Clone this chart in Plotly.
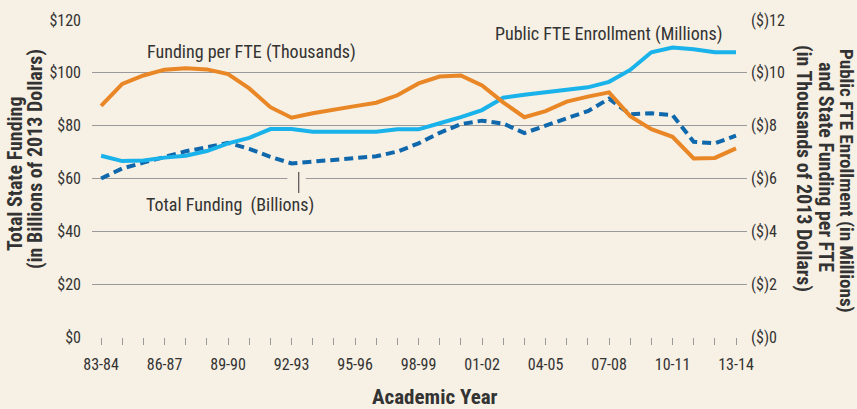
import plotly.graph_objects as go

years = ["83-84","84-85","85-86","86-87","87-88","88-89","89-90","90-91","91-92","92-93",
         "93-94","94-95","95-96","96-97","97-98","98-99","99-00","00-01","01-02","02-03",
         "03-04","04-05","05-06","06-07","07-08","08-09","09-10","10-11","11-12","12-13","13-14"]

# Total state funding, billions of 2013 dollars (left axis)
total_funding = [60.0, 63.8, 66.0, 68.2, 70.3, 71.8, 73.5, 71.2, 68.2, 65.7,
                 66.3, 67.0, 67.6, 68.4, 70.2, 73.3, 77.3, 80.6, 81.9, 80.8,
                 77.2, 80.2, 82.8, 85.5, 90.2, 84.3, 84.7, 84.0, 73.9, 73.3, 76.2]

# Funding per FTE, thousands of 2013 dollars (right axis)
funding_per_fte = [8.75, 9.58, 9.90, 10.12, 10.17, 10.13, 9.95, 9.41, 8.70, 8.30,
                   8.47, 8.62, 8.74, 8.87, 9.15, 9.60, 9.86, 9.90, 9.52, 8.88,
                   8.32, 8.55, 8.91, 9.10, 9.26, 8.36, 7.87, 7.58, 6.76, 6.78, 7.14]

# Public FTE enrollment, millions (right axis)
enrollment = [6.86, 6.66, 6.68, 6.79, 6.86, 7.04, 7.33, 7.54, 7.87, 7.87,
              7.77, 7.77, 7.77, 7.77, 7.86, 7.86, 8.09, 8.32, 8.59, 9.06,
              9.17, 9.26, 9.35, 9.45, 9.66, 10.11, 10.78, 10.96, 10.89, 10.78, 10.78]

left_ticks = [0, 20, 40, 60, 80, 100, 120]
left_ticktext = ["$0", "$20", "$40", "$60", "$80", "$100", "$120"]
right_ticks = [0, 2, 4, 6, 8, 10, 12]
right_ticktext = ["($)0", "($)2", "($)4", "($)6", "($)8", "($)10", "($)12"]

BG = "#F7F0E4"
FONT = "Liberation Sans Narrow, Roboto Condensed, Arial Narrow, Liberation Sans, sans-serif"
TXT = "#333333"
GRID = "#9a9a9a"

W, H = 857, 409
ML, MR, MT, MB = 92, 110, 20, 72

x = list(range(len(years)))
tick_labels = [y if i % 3 == 0 else "" for i, y in enumerate(years)]

fig = go.Figure()
fig.add_trace(go.Scatter(x=x, y=enrollment, yaxis="y2", mode="lines",
                         line=dict(color="#19B2EA", width=4), name="Public FTE Enrollment (Millions)"))
fig.add_trace(go.Scatter(x=x, y=funding_per_fte, yaxis="y2", mode="lines",
                         line=dict(color="#E98625", width=4), name="Funding per FTE (Thousands)"))
fig.add_trace(go.Scatter(x=x, y=total_funding, mode="lines",
                         line=dict(color="#1068AC", width=4, dash="9px,5px"), name="Total Funding (Billions)"))

fig.update_layout(
    width=W, height=H,
    paper_bgcolor=BG, plot_bgcolor=BG,
    margin=dict(l=ML, r=MR, t=MT, b=MB),
    showlegend=False,
    font=dict(family=FONT, size=16, color=TXT),
    xaxis=dict(range=[-0.43, 30.52], tickmode="array", tickvals=x, ticktext=tick_labels,
               ticks="outside", ticklen=7, tickcolor=GRID, tickwidth=1,
               showgrid=False, zeroline=False, showline=False, ticklabelstandoff=6,
               tickfont=dict(family=FONT, size=16, color=TXT)),
    yaxis=dict(range=[0, 120], tickmode="array", tickvals=left_ticks, ticktext=left_ticktext,
               showgrid=True, gridcolor=GRID, gridwidth=1, zeroline=False, showline=False,
               ticks="", ticklabelstandoff=10,
               tickfont=dict(family=FONT, size=16, color=TXT)),
    yaxis2=dict(range=[0, 12], overlaying="y", side="right", tickmode="array",
                tickvals=right_ticks, ticktext=right_ticktext, showgrid=False,
                zeroline=False, showline=False, ticks="", ticklabelstandoff=3,
                tickfont=dict(family=FONT, size=16, color=TXT)),
)

# gap in the $60 gridline around the pointer, and the pointer itself
fig.add_shape(type="line", xref="x", yref="y", x0=8.8, x1=9.67, y0=60, y1=60,
              line=dict(color=BG, width=3), layer="above")
fig.add_shape(type="line", xref="x", yref="y", x0=9.34, x1=9.34, y0=62.5, y1=54.5,
              line=dict(color="#333333", width=1), layer="above")

def px(xp):
    return (xp - ML) / (W - ML - MR)
def py(yp):
    return (H - MB - yp) / (H - MB - MT)

def note(xp, yp, text, size, angle=0):
    fig.add_annotation(x=px(xp), y=py(yp), xref="paper", yref="paper", text=text,
                       textangle=angle, showarrow=False,
                       font=dict(family=FONT, size=size, color=TXT),
                       xanchor="center", yanchor="middle")

note(251, 52, "Funding per FTE (Thousands)", 18)
note(608, 34, "Public FTE Enrollment (Millions)", 18)
note(230, 205, "Total Funding  (Billions)", 18)

note(15, 174, "<b>Total State Funding</b>", 20, -90)
note(35, 159, "<b>(in Billions of 2013 Dollars)</b>", 20, -90)

note(846, 181, "<b>Public FTE Enrollment (in Millions)</b>", 19, 90)
note(826, 167, "<b>and State Funding per FTE</b>", 20, 90)
note(804, 168, "<b>(in Thousands of 2013 Dollars)</b>", 20, 90)

note(435, 397, "<b>Academic Year</b>", 21)

fig.write_html("out.html", config={"displayModeBar": False},
               post_script="document.body.style.margin='0px';")
